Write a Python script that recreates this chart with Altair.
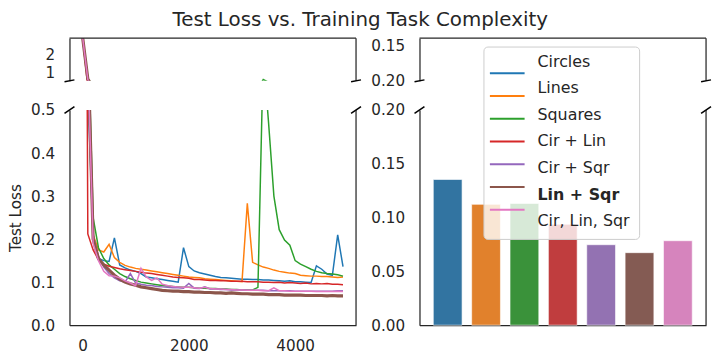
import altair as alt
import pandas as pd

steps = list(range(0, 5000, 100))

circles = [3.0, 0.55, 0.2, 0.155, 0.15, 0.148, 0.203, 0.14, 0.133, 0.128,
           0.125, 0.12, 0.112, 0.11, 0.108, 0.106, 0.104, 0.102, 0.1, 0.18,
           0.136, 0.126, 0.122, 0.119, 0.116, 0.113, 0.111, 0.11, 0.109, 0.108,
           0.107, 0.107, 0.106, 0.106, 0.105, 0.105, 0.104, 0.103, 0.102, 0.103,
           0.101, 0.101, 0.1, 0.099, 0.138, 0.13, 0.119, 0.116, 0.21, 0.136]
lines = [3.0, 0.6, 0.21, 0.175, 0.17, 0.188, 0.157, 0.146, 0.139, 0.135,
         0.132, 0.13, 0.128, 0.126, 0.124, 0.122, 0.12, 0.118, 0.116, 0.114,
         0.112, 0.111, 0.11, 0.108, 0.107, 0.106, 0.105, 0.104, 0.103, 0.102,
         0.101, 0.283, 0.146, 0.14, 0.135, 0.132, 0.128, 0.125, 0.123, 0.121,
         0.12, 0.116, 0.115, 0.114, 0.114, 0.113, 0.113, 0.112, 0.111, 0.112]
squares = [3.0, 0.7, 0.25, 0.18, 0.155, 0.14, 0.13, 0.12, 0.113, 0.108,
           0.104, 0.1, 0.098, 0.096, 0.094, 0.092, 0.091, 0.09, 0.089, 0.088,
           0.088, 0.087, 0.086, 0.086, 0.085, 0.085, 0.084, 0.084, 0.083, 0.083,
           0.082, 0.082, 0.082, 0.088, 0.63, 0.47, 0.30, 0.222, 0.198, 0.186,
           0.15, 0.142, 0.136, 0.13, 0.125, 0.122, 0.12, 0.119, 0.117, 0.114]
cir_lin = [3.0, 0.212, 0.175, 0.152, 0.142, 0.137, 0.134, 0.131, 0.129, 0.127,
           0.125, 0.123, 0.121, 0.12, 0.118, 0.116, 0.114, 0.112, 0.111, 0.11,
           0.109, 0.106, 0.106, 0.105, 0.104, 0.104, 0.103, 0.103, 0.102, 0.102,
           0.102, 0.101, 0.101, 0.101, 0.1, 0.1, 0.099, 0.1, 0.098, 0.099,
           0.098, 0.097, 0.098, 0.096, 0.097, 0.096, 0.097, 0.095, 0.095, 0.094]
cir_sqr = [3.0, 0.6, 0.21, 0.16, 0.135, 0.12, 0.11, 0.103, 0.1, 0.12,
           0.098, 0.095, 0.093, 0.092, 0.09, 0.089, 0.088, 0.087, 0.087, 0.086,
           0.097, 0.086, 0.085, 0.089, 0.084, 0.084, 0.083, 0.083, 0.082, 0.082,
           0.082, 0.081, 0.081, 0.081, 0.081, 0.08, 0.08, 0.08, 0.08, 0.08,
           0.079, 0.079, 0.079, 0.079, 0.079, 0.079, 0.079, 0.079, 0.08, 0.08]
lin_sqr = [3.0, 0.65, 0.2, 0.155, 0.14, 0.128, 0.116, 0.107, 0.1, 0.096,
           0.093, 0.089, 0.087, 0.085, 0.083, 0.081, 0.08, 0.079, 0.079, 0.078,
           0.078, 0.077, 0.077, 0.076, 0.076, 0.075, 0.075, 0.074, 0.075, 0.074,
           0.073, 0.073, 0.072, 0.072, 0.072, 0.071, 0.071, 0.071, 0.07, 0.07,
           0.07, 0.07, 0.069, 0.069, 0.069, 0.069, 0.068, 0.069, 0.068, 0.068]
cir_lin_sqr = [3.0, 0.62, 0.19, 0.15, 0.125, 0.115, 0.114, 0.11, 0.103, 0.098,
               0.092, 0.132, 0.112, 0.104, 0.11, 0.095, 0.092, 0.09, 0.089, 0.088,
               0.088, 0.087, 0.086, 0.088, 0.085, 0.084, 0.084, 0.083, 0.083, 0.082,
               0.082, 0.081, 0.081, 0.081, 0.08, 0.08, 0.087, 0.08, 0.08, 0.079,
               0.079, 0.079, 0.079, 0.079, 0.078, 0.078, 0.078, 0.078, 0.079, 0.078]

series_names = ["Circles", "Lines", "Squares", "Cir + Lin", "Cir + Sqr", "Lin + Sqr", "Cir, Lin, Sqr"]
series_values = [circles, lines, squares, cir_lin, cir_sqr, lin_sqr, cir_lin_sqr]
final_loss = [0.1354, 0.1123, 0.1132, 0.0938, 0.0748, 0.0674, 0.0785]
line_colors = ["#1f77b4", "#ff7f0e", "#2ca02c", "#d62728", "#9467bd", "#8c564b", "#e377c2"]
bar_colors = ["#3274a1", "#e1812c", "#3a923a", "#c03d3e", "#9372b2", "#845b53", "#d684bd"]

rows = []
for name, vals in zip(series_names, series_values):
    for s, v in zip(steps, vals):
        rows.append({"step": s, "loss": v, "series": name})
df = pd.DataFrame(rows)
bar_df = pd.DataFrame({"series": series_names, "loss": final_loss})
one = pd.DataFrame({"k": [0]})

W = 289
HT = 43
HB = 217
SP = "#262626"
FONT = "DejaVu Sans"

xscale = alt.Scale(domain=[-245, 5145], nice=False, zero=False)


def frame(h, top, bottom_break):
    parts = [alt.Chart(one).mark_rule(color=SP, strokeWidth=1.25).encode(
        x=alt.value(W), y=alt.value(0), y2=alt.value(h))]
    if top:
        parts.append(alt.Chart(one).mark_rule(color=SP, strokeWidth=1.25).encode(
            x=alt.value(0), x2=alt.value(W), y=alt.value(0)))
    for xc in (0, W):
        if bottom_break:
            parts.append(alt.Chart(one).mark_rule(color="black", strokeWidth=1.5).encode(
                x=alt.value(xc - 5), x2=alt.value(xc + 5), y=alt.value(h + 1), y2=alt.value(h - 1)))
        else:
            parts.append(alt.Chart(one).mark_rule(color="black", strokeWidth=1.5).encode(
                x=alt.value(xc - 5), x2=alt.value(xc + 5), y=alt.value(3.5), y2=alt.value(-3.5)))
    return parts


def line_panel(ydomain, h, yaxis, xaxis):
    layers = []
    for name, color in zip(series_names, line_colors):
        w = 3.2 if name == "Lin + Sqr" else 1.5
        layers.append(alt.Chart(df).transform_filter(alt.datum.series == name).mark_line(
            color=color, strokeWidth=w, clip=True).encode(
            x=alt.X("step:Q", scale=xscale, axis=xaxis),
            y=alt.Y("loss:Q", scale=alt.Scale(domain=ydomain, nice=False, zero=False), axis=yaxis)))
    return layers


lt_yaxis = alt.Axis(values=[1, 2], format="d", title=None)
lt = alt.layer(*line_panel([0.55, 2.9], HT, lt_yaxis, None), *frame(HT, True, True)).properties(width=W, height=HT)

lb_yaxis = alt.Axis(values=[0, 0.1, 0.2, 0.3, 0.4, 0.5], format=".1f", title="Test Loss")
lb_xaxis = alt.Axis(values=[0, 2000, 4000], format="d", title=None)
lb = alt.layer(*line_panel([0, 0.5], HB, lb_yaxis, lb_xaxis), *frame(HB, False, False)).properties(width=W, height=HB)

rt_base = alt.Chart(bar_df).mark_point(opacity=0, clip=True).encode(
    x=alt.X("series:N", sort=series_names, axis=None),
    y=alt.Y("loss:Q", scale=alt.Scale(domain=[0.14, 0.2], reverse=True, nice=False, zero=False),
            axis=alt.Axis(values=[0.15, 0.2], format=".2f", title=None)))
rt = alt.layer(rt_base, *frame(HT, True, True)).properties(width=W, height=HT)

bars = alt.Chart(bar_df).mark_bar(stroke="white", strokeWidth=1, strokeOpacity=0.6).encode(
    x=alt.X("series:N", sort=series_names, scale=alt.Scale(paddingInner=0.25, paddingOuter=0.36),
            axis=alt.Axis(labels=False, title=None)),
    y=alt.Y("loss:Q", scale=alt.Scale(domain=[0, 0.2], nice=False),
            axis=alt.Axis(values=[0, 0.05, 0.1, 0.15, 0.2], format=".2f", title=None)),
    color=alt.Color("series:N", scale=alt.Scale(domain=series_names, range=bar_colors), legend=None))

leg_bg = alt.Chart(one).mark_rect(fill="white", fillOpacity=0.8, stroke="#cccccc", strokeWidth=1, cornerRadius=4).encode(
    x=alt.value(65), x2=alt.value(222), y=alt.value(-63.5), y2=alt.value(130.5))
leg_y = alt.Y("series:N", sort=series_names,
              scale=alt.Scale(domain=series_names, range=[-48.5, 112], padding=0), axis=None)
leg_lines = alt.Chart(bar_df).mark_rule().encode(
    x=alt.value(71), x2=alt.value(106), y=leg_y,
    color=alt.Color("series:N", scale=alt.Scale(domain=series_names, range=line_colors), legend=None),
    strokeWidth=alt.StrokeWidth("series:N", scale=alt.Scale(domain=series_names, range=[2, 2, 2, 2, 2, 4, 2]), legend=None))
leg_text = alt.Chart(bar_df).transform_filter(alt.datum.series != "Lin + Sqr").mark_text(
    align="left", baseline="middle", fontSize=16, font=FONT, color=SP).encode(
    x=alt.value(119), y=leg_y, text="series:N")
leg_text_b = alt.Chart(bar_df).transform_filter(alt.datum.series == "Lin + Sqr").mark_text(
    align="left", baseline="middle", fontSize=16, font=FONT, fontWeight="bold", color=SP).encode(
    x=alt.value(119), y=leg_y, text="series:N")

rb = alt.layer(bars, *frame(HB, False, False), leg_bg, leg_lines, leg_text, leg_text_b).resolve_scale(
    y="independent", color="independent", strokeWidth="independent").properties(width=W, height=HB)

chart = alt.concat(lt, rt, lb, rb, columns=2, spacing={"row": 29.4, "column": 64}, bounds="flush").properties(
    title=alt.TitleParams("Test Loss vs. Training Task Complexity", fontSize=20, font=FONT,
                          fontWeight="normal", color=SP, anchor="middle", offset=7.5),
    padding={"left": 0, "top": 0, "right": 0, "bottom": 0},
).configure_view(stroke=None).configure_axis(
    labelFont=FONT, labelFontSize=15.3, labelColor=SP, titleFont=FONT, titleFontSize=15.3,
    titleFontWeight="normal", titleColor=SP, ticks=False, tickSize=0, labelPadding=15,
    domainColor=SP, domainWidth=1.25, grid=False, titlePadding=7
).configure_axisX(labelPadding=14)

chart.save("out.html", embed_options={"renderer": "svg", "actions": False})
